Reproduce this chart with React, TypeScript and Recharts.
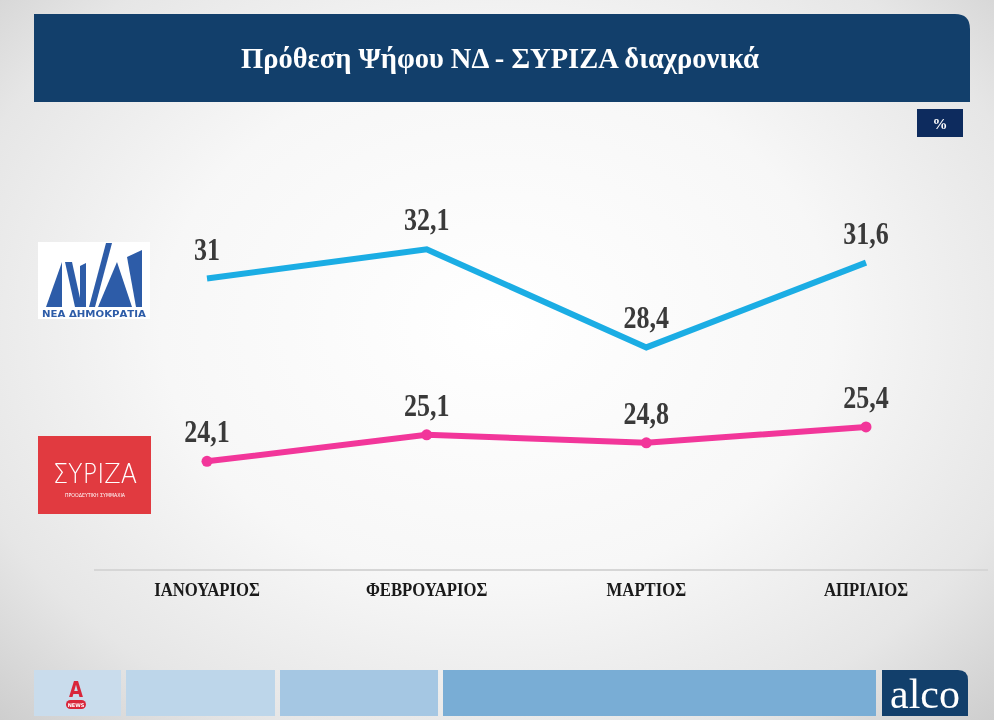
import React from 'react';
import { LineChart, Line, XAxis, YAxis, LabelList } from 'recharts';

const months = ['ΙΑΝΟΥΑΡΙΟΣ', 'ΦΕΒΡΟΥΑΡΙΟΣ', 'ΜΑΡΤΙΟΣ', 'ΑΠΡΙΛΙΟΣ'];
const ndValues = [31, 32.1, 28.4, 31.6];
const syrizaValues = [24.1, 25.1, 24.8, 25.4];

const data = months.map((m, i) => ({ month: m, nd: ndValues[i], syriza: syrizaValues[i] }));

const fmt = (v: number) => String(v).replace('.', ',');

const ValueLabel = (props: any) => {
  const { x, y, value } = props;
  return (
    <text
      transform={`translate(${x},${y - 19}) scale(0.84,1)`}
      textAnchor="middle"
      fontFamily="'Liberation Serif', serif"
      fontWeight="bold"
      fontSize={31}
      fill="#3a3a3a"
    >
      {fmt(value)}
    </text>
  );
};

const MonthTick = (props: any) => {
  const { x, y, payload } = props;
  return (
    <text
      transform={`translate(${x},${y + 26}) scale(0.88,1)`}
      textAnchor="middle"
      fontFamily="'Liberation Serif', serif"
      fontWeight="bold"
      fontSize={19}
      fill="#1a1a1a"
    >
      {payload.value}
    </text>
  );
};

const Decor = () => (
  <svg width={994} height={720} style={{ position: 'absolute', left: 0, top: 0 }}>
    <path d="M34 14 H955 Q970 14 970 29 V102 H34 Z" fill="#123f6b" />
    <text
      x={500}
      y={68}
      textAnchor="middle"
      fontFamily="'Liberation Serif', serif"
      fontWeight="bold"
      fontSize={29}
      fill="#ffffff"
      textLength={518}
      lengthAdjust="spacingAndGlyphs"
    >
      Πρόθεση Ψήφου ΝΔ  - ΣΥΡΙΖΑ διαχρονικά
    </text>
    <rect x={917} y={109} width={46} height={28} fill="#0d2b5e" />
    <text x={940} y={129} textAnchor="middle" fontFamily="'Liberation Serif', serif" fontWeight="bold" fontSize={15} fill="#ffffff">%</text>

    <rect x={38} y={242} width={112} height={77} fill="#ffffff" />
    <g fill="#2d5ca8">
      <polygon points="46,307 62,262 62,307" />
      <polygon points="65,262 72,262 82,307 75,307" />
      <polygon points="80,266 86,263 86,307 80,307" />
      <polygon points="89,307 95,307 112,243 106,243" />
      <polygon points="98,307 117,262 132,307" />
      <polygon points="127,257 142,250 142,307 136,307" />
    </g>
    <text x={94} y={317} textAnchor="middle" fontFamily="'DejaVu Sans', sans-serif" fontWeight="bold" fontSize={9} fill="#2d5ca8" textLength={104} lengthAdjust="spacingAndGlyphs">ΝΕΑ ΔΗΜΟΚΡΑΤΙΑ</text>

    <rect x={38} y={436} width={113} height={78} fill="#e13a40" />
    <text x={95} y={483} textAnchor="middle" fontFamily="'DejaVu Sans', sans-serif" fontWeight="300" fontSize={27} fill="#ffffff" textLength={84} lengthAdjust="spacingAndGlyphs">ΣΥΡΙΖΑ</text>
    <text x={95} y={497} textAnchor="middle" fontFamily="'DejaVu Sans', sans-serif" fontSize={5.5} fill="#ffffff" textLength={60} lengthAdjust="spacingAndGlyphs">ΠΡΟΟΔΕΥΤΙΚΗ ΣΥΜΜΑΧΙΑ</text>

    <rect x={34} y={670} width={87} height={46} fill="#c9dcec" />
    <rect x={126} y={670} width={149} height={46} fill="#bdd6ea" />
    <rect x={280} y={670} width={158} height={46} fill="#a5c7e3" />
    <rect x={443} y={670} width={433} height={46} fill="#79add5" />
    <path d="M882 670 H958 Q968 670 968 680 V716 H882 Z" fill="#123f6b" />
    <text x={925} y={708} textAnchor="middle" fontFamily="'Liberation Serif', serif" fontSize={42} fill="#ffffff" textLength={70} lengthAdjust="spacingAndGlyphs">alco</text>
    <text x={76} y={697} textAnchor="middle" fontFamily="'DejaVu Sans', sans-serif" fontWeight="bold" fontSize={22} fill="#d9263a" textLength={14} lengthAdjust="spacingAndGlyphs">A</text>
    <rect x={66} y={700} width={20} height={9} rx={4.5} fill="#d9263a" />
    <text x={76} y={707} textAnchor="middle" fontFamily="'DejaVu Sans', sans-serif" fontWeight="bold" fontSize={5} fill="#ffffff">NEWS</text>
  </svg>
);

export default function App() {
  return (
    <div
      style={{
        position: 'fixed',
        left: 0,
        top: 0,
        width: 994,
        height: 720,
        overflow: 'hidden',
        background: 'radial-gradient(ellipse 75% 80% at 50% 45%, #ffffff 0%, #f7f7f7 45%, #e6e6e6 75%, #c9c9c9 100%)',
      }}
    >
      <Decor />
      <div style={{ position: 'absolute', left: 0, top: 0 }}>
        <LineChart
          width={994}
          height={720}
          data={data}
          margin={{ top: 146, right: 6, bottom: 120, left: 94 }}
        >
          <XAxis
            dataKey="month"
            height={30}
            axisLine={{ stroke: '#d6d6d6', strokeWidth: 2 }}
            tickLine={false}
            tickSize={0}
            tickMargin={0}
            padding={{ left: 113, right: 122 }}
            tick={<MonthTick />}
            interval={0}
          />
          <YAxis hide domain={[20, 36]} width={0} />
          <Line
            dataKey="nd"
            stroke="#1badE4"
            strokeWidth={6}
            dot={false}
            activeDot={false}
            isAnimationActive={false}
          >
            <LabelList dataKey="nd" content={<ValueLabel />} />
          </Line>
          <Line
            dataKey="syriza"
            stroke="#f2369a"
            strokeWidth={6}
            dot={{ r: 5.5, fill: '#f2369a', stroke: '#f2369a', strokeWidth: 0 }}
            activeDot={false}
            isAnimationActive={false}
          >
            <LabelList dataKey="syriza" content={<ValueLabel />} />
          </Line>
        </LineChart>
      </div>
    </div>
  );
}
